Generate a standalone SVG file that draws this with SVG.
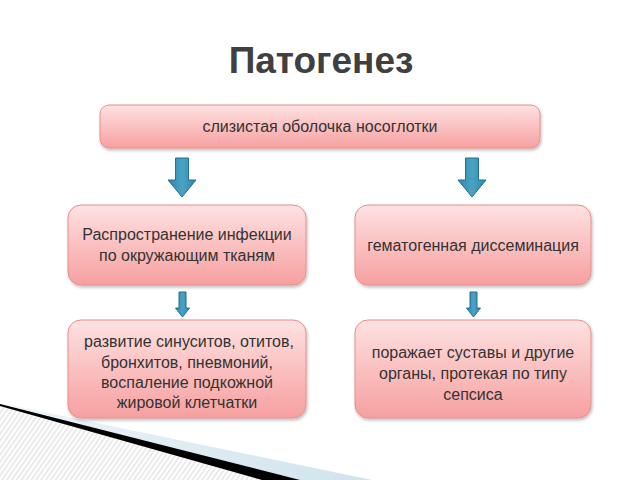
<svg xmlns="http://www.w3.org/2000/svg" width="640" height="480" viewBox="0 0 640 480">
<defs>
<linearGradient id="boxg" x1="0" y1="0" x2="0" y2="1">
<stop offset="0" stop-color="#fde2e2"/>
<stop offset="0.5" stop-color="#fbc0c0"/>
<stop offset="1" stop-color="#f6a0a0"/>
</linearGradient>
<linearGradient id="arrg" x1="0" y1="0" x2="1" y2="0">
<stop offset="0" stop-color="#2f86a8"/>
<stop offset="0.5" stop-color="#4aa3c4"/>
<stop offset="1" stop-color="#2f86a8"/>
</linearGradient>
<linearGradient id="blueband" x1="0" y1="0" x2="1" y2="0">
<stop offset="0" stop-color="#eef5f9"/>
<stop offset="1" stop-color="#cfe3ee"/>
</linearGradient>
<pattern id="hatch" width="4" height="4" patternUnits="userSpaceOnUse" patternTransform="rotate(35)">
<rect width="4" height="4" fill="#ffffff"/>
<rect width="1.6" height="4" fill="#e6e6e6"/>
</pattern>
<filter id="sh" x="-10%" y="-10%" width="120%" height="130%">
<feDropShadow dx="1" dy="2" stdDeviation="1.5" flood-color="#000" flood-opacity="0.25"/>
</filter>
</defs>
<style>
.box{fill:url(#boxg);stroke:#e88e8e;stroke-width:1;filter:url(#sh)}
.t{font-family:"Liberation Sans",Arial,sans-serif;font-size:16px;fill:#333;text-anchor:middle}
.arr{fill:url(#arrg);stroke:#276f8c;stroke-width:1}
.title{font-family:"Liberation Sans",Arial,sans-serif;font-size:37px;font-weight:bold;fill:#404040;text-anchor:middle}
</style>
<rect width="640" height="480" fill="#ffffff"/>
<g id="decor">
<polygon points="0,403 372,480 0,480" fill="url(#blueband)"/>
<polygon points="0,404 300,480 0,480" fill="#000"/>
<polygon points="0,406 262,480 0,480" fill="url(#hatch)"/>
</g>
<text class="title" x="321" y="73">Патогенез</text>
<g id="connectors">
<path class="arr" d="M175.5,158 H188.5 V180 H196 L182,197 L168,180 H175.5 Z"/>
<path class="arr" d="M465.5,158 H478.5 V180 H486 L472,197 L458,180 H465.5 Z"/>
<path class="arr" d="M179,292 H186 V308 H189.5 L182.5,317 L175.5,308 H179 Z"/>
<path class="arr" d="M470,292 H477 V308 H480.5 L473.5,317 L466.5,308 H470 Z"/>
</g>
<g id="n1">
<rect class="box" x="100" y="105" width="440" height="43" rx="9"/>
<text class="t" x="320" y="132">слизистая оболочка носоглотки</text>
</g>
<g id="n2">
<rect class="box" x="68" y="205" width="238" height="80" rx="13"/>
<text class="t" x="187" y="240">Распространение инфекции</text>
<text class="t" x="187" y="261">по окружающим тканям</text>
</g>
<g id="n3">
<rect class="box" x="355" y="205" width="236" height="80" rx="13"/>
<text class="t" x="473" y="251">гематогенная диссеминация</text>
</g>
<g id="n4">
<rect class="box" x="68" y="320" width="238" height="98" rx="13"/>
<text class="t" x="189" y="347">развитие синуситов, отитов,</text>
<text class="t" x="187" y="368">бронхитов, пневмоний,</text>
<text class="t" x="187" y="388">воспаление подкожной</text>
<text class="t" x="187" y="408">жировой клетчатки</text>
</g>
<g id="n5">
<rect class="box" x="355" y="320" width="236" height="98" rx="13"/>
<text class="t" x="473" y="358">поражает суставы и другие</text>
<text class="t" x="473" y="379">органы, протекая по типу</text>
<text class="t" x="473" y="400">сепсиса</text>
</g>
</svg>
